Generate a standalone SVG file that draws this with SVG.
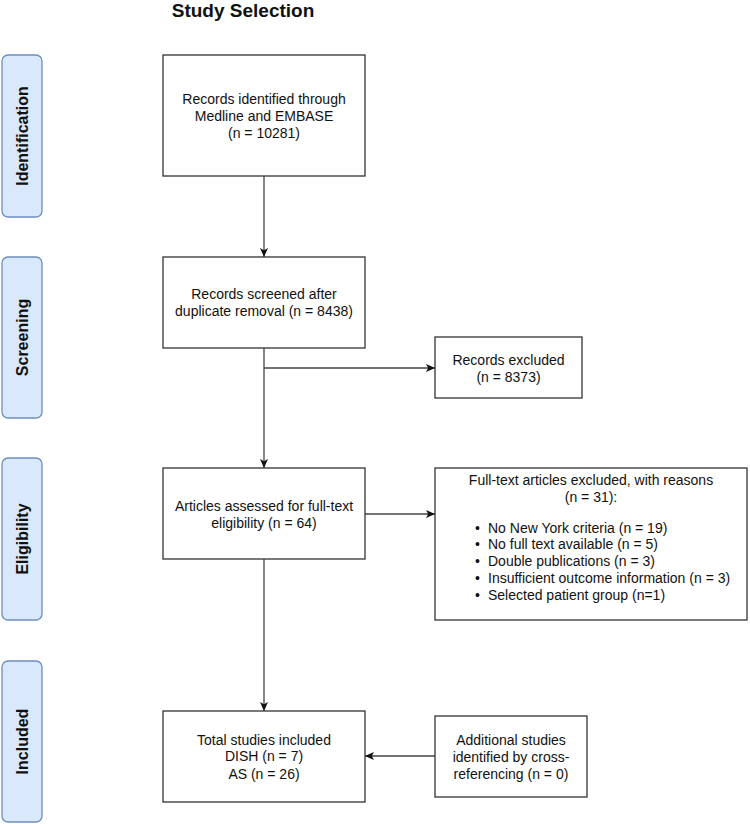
<svg xmlns="http://www.w3.org/2000/svg" width="750" height="824" viewBox="0 0 750 824">
<style>
text{font-family:"Liberation Sans",Arial,sans-serif;fill:#111;}
.t{font-size:14px;text-anchor:middle;}
.b{font-size:14px;}
.lane rect{fill:#dae8fc;stroke:#6c8ebf;stroke-width:1.3;}
.lane text{font-size:16px;font-weight:bold;text-anchor:middle;}
.box{fill:#fff;stroke:#333;stroke-width:1.3;}
.c{stroke:#444;stroke-width:1.3;fill:none;}
</style>
<defs>
<marker id="ah" markerUnits="userSpaceOnUse" markerWidth="10" markerHeight="10" refX="9" refY="4.5" orient="auto">
<path d="M0,0.5 L9,4.5 L0,8.5 L2.2,4.5 Z" fill="#111"/>
</marker>
</defs>
<rect width="750" height="824" fill="#fff"/>
<text x="243" y="16.5" style="font-size:19px;font-weight:bold;text-anchor:middle">Study Selection</text>

<g id="lane-identification" class="lane"><rect x="2" y="55" width="40" height="162" rx="6"/><text transform="translate(28,136) rotate(-90)">Identification</text></g>
<g id="lane-screening" class="lane"><rect x="2" y="257" width="40" height="161" rx="6"/><text transform="translate(28,337.5) rotate(-90)">Screening</text></g>
<g id="lane-eligibility" class="lane"><rect x="2" y="458" width="40" height="162" rx="6"/><text transform="translate(28,539) rotate(-90)">Eligibility</text></g>
<g id="lane-included" class="lane"><rect x="2" y="661" width="40" height="161" rx="6"/><text transform="translate(28,741.5) rotate(-90)">Included</text></g>

<g id="connectors">
<line class="c" x1="264" y1="176" x2="264" y2="257" marker-end="url(#ah)"/>
<line class="c" x1="264" y1="348" x2="264" y2="468" marker-end="url(#ah)"/>
<line class="c" x1="264" y1="368" x2="435" y2="368" marker-end="url(#ah)"/>
<line class="c" x1="365" y1="514" x2="435" y2="514" marker-end="url(#ah)"/>
<line class="c" x1="264" y1="559" x2="264" y2="711" marker-end="url(#ah)"/>
<line class="c" x1="435" y1="756" x2="365" y2="756" marker-end="url(#ah)"/>
</g>

<g id="identified"><rect class="box" x="163" y="55" width="202" height="121"/>
<text class="t" x="264" y="104">Records identified through</text>
<text class="t" x="264" y="121">Medline and EMBASE</text>
<text class="t" x="264" y="138">(n = 10281)</text></g>

<g id="screened"><rect class="box" x="163" y="257" width="202" height="91"/>
<text class="t" x="264" y="299">Records screened after</text>
<text class="t" x="264" y="316">duplicate removal (n = 8438)</text></g>

<g id="excluded"><rect class="box" x="435" y="337" width="147" height="61"/>
<text class="t" x="508.5" y="364.5">Records excluded</text>
<text class="t" x="508.5" y="381.5">(n = 8373)</text></g>

<g id="assessed"><rect class="box" x="163" y="468" width="202" height="91"/>
<text class="t" x="264" y="511">Articles assessed for full-text</text>
<text class="t" x="264" y="527.5">eligibility (n = 64)</text></g>

<g id="fulltext-excluded"><rect class="box" x="435" y="468" width="312" height="152"/>
<text class="t" x="591" y="484.5">Full-text articles excluded, with reasons</text>
<text class="t" x="591" y="501.5">(n = 31):</text>
<text class="b" x="475" y="532.5">•</text><text class="b" x="488" y="532.5">No New York criteria (n = 19)</text>
<text class="b" x="475" y="549">•</text><text class="b" x="488" y="549">No full text available (n = 5)</text>
<text class="b" x="475" y="565.5">•</text><text class="b" x="488" y="565.5">Double publications (n = 3)</text>
<text class="b" x="475" y="582.5">•</text><text class="b" x="488" y="582.5">Insufficient outcome information (n = 3)</text>
<text class="b" x="475" y="599.5">•</text><text class="b" x="488" y="599.5">Selected patient group (n=1)</text></g>

<g id="included"><rect class="box" x="163" y="711" width="202" height="91"/>
<text class="t" x="264" y="744.5">Total studies included</text>
<text class="t" x="264" y="761">DISH (n = 7)</text>
<text class="t" x="264" y="778.5">AS (n = 26)</text></g>

<g id="additional"><rect class="box" x="435" y="716" width="152" height="81"/>
<text class="t" x="511" y="744.5">Additional studies</text>
<text class="t" x="511" y="761.5">identified by cross-</text>
<text class="t" x="511" y="779">referencing (n = 0)</text></g>
</svg>
